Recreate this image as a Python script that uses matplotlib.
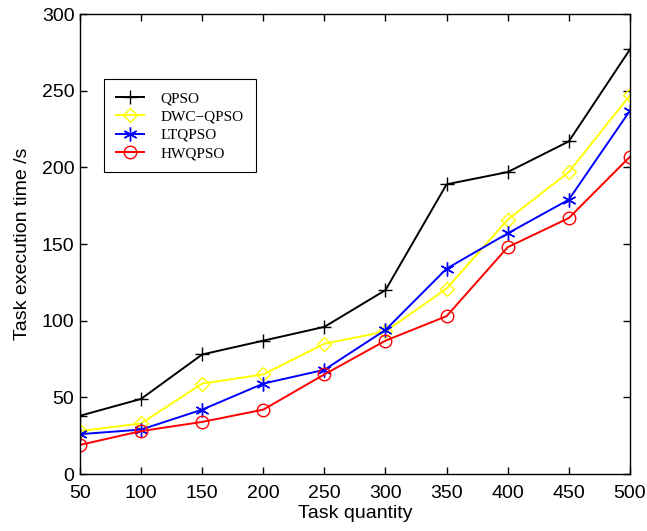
import matplotlib
matplotlib.use("Agg")
import matplotlib.pyplot as plt

task_quantity = [50, 100, 150, 200, 250, 300, 350, 400, 450, 500]
qpso = [38, 49, 78, 87, 96, 120, 189, 197, 217, 277]
dwc_qpso = [28, 33, 59, 65, 85, 93, 121, 166, 197, 247]
ltqpso = [26, 29, 42, 59, 68, 94, 134, 157, 179, 237]
hwqpso = [19, 28, 34, 42, 65, 87, 103, 148, 167, 207]

# MATLAB-like asterisk marker
asterisk = (6, 2, 0)

series = [
    ("QPSO", qpso, "black", "+", 10),
    ("DWC\u2212QPSO", dwc_qpso, "#ffff00", "D", 7.5),
    ("LTQPSO", ltqpso, "blue", asterisk, 10),
    ("HWQPSO", hwqpso, "red", "o", 9),
]

plt.rcParams["font.family"] = ["Liberation Sans", "DejaVu Sans"]

fig = plt.figure(figsize=(6.47, 5.31), dpi=100)
ax = fig.add_axes([0.1236, 0.1073, 0.850, 0.866])

for label, values, color, marker, size in series:
    ax.plot(task_quantity, values, color=color, marker=marker, markersize=size,
            markerfacecolor="none", markeredgecolor=color, markeredgewidth=1.0,
            linewidth=1.4, label=label)

ax.set_xlim(50, 500)
ax.set_ylim(0, 300)
ax.set_xticks(task_quantity)
ax.set_yticks(range(0, 301, 50))
ax.tick_params(direction="in", length=5, top=True, right=True, labelsize=14, width=1)
ax.tick_params(axis="x", pad=8)
ax.tick_params(axis="y", pad=4)
for spine in ax.spines.values():
    spine.set_linewidth(1.0)
ax.set_xlabel("Task quantity", fontsize=14, labelpad=2)
ax.set_ylabel("Task execution time /s", fontsize=14, labelpad=8)

legend = ax.legend(loc="upper left", bbox_to_anchor=(0.044, 0.858), borderaxespad=0,
                   frameon=True, fancybox=False, edgecolor="black", framealpha=1,
                   prop={"family": ["Liberation Serif", "DejaVu Serif"], "size": 11},
                   handlelength=1.8, labelspacing=0.3, borderpad=0.8, handletextpad=1.1)
legend.get_frame().set_linewidth(0.8)

fig.savefig("out.png", dpi=100)
